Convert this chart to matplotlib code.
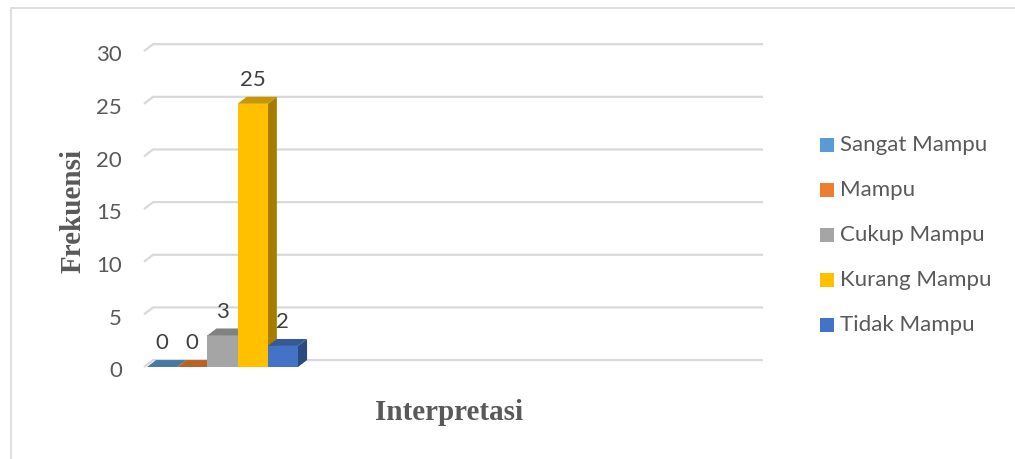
import numpy as np
import matplotlib
matplotlib.use('Agg')
import matplotlib.pyplot as plt
from matplotlib.patches import Polygon, Rectangle
from matplotlib.colors import to_rgb

# Data

categories = ['Sangat Mampu', 'Mampu', 'Cukup Mampu', 'Kurang Mampu', 'Tidak Mampu']
frekuensi = [0, 0, 3, 25, 2]
colors = ['#5B9BD5', '#ED7D31', '#A5A5A5', '#FFC000', '#4472C4']
yticks = [0, 5, 10, 15, 20, 25, 30]

# Style

text_color = '#595959'
grid_color = '#D9D9D9'
tick_font = 'Lato'
title_font = 'Liberation Serif'
label_size = 16

# fake 3D depth (data units)
depth_x = 0.3
depth_y = 0.66


def shade(color, factor):
    r, g, b = to_rgb(color)
    return (r * factor, g * factor, b * factor)


fig = plt.figure(figsize=(10.15, 4.59), dpi=100)
fig.patch.set_facecolor('white')

# outer chart border
fig.patches.append(Rectangle((10.5 / 1015, -0.05), 1.1, (459 - 7.5) / 459 + 0.05,
                             transform=fig.transFigure, fill=False,
                             edgecolor=grid_color, linewidth=1.2))

ax = fig.add_axes([144 / 1015, (459 - 367) / 459, 619 / 1015, 326.4 / 459])
ax.set_xlim(-0.6, 19.9)
ax.set_ylim(0, 31)
ax.axis('off')

# back-wall gridlines with the slanted floor edge
x0, x1 = ax.get_xlim()
for v in yticks:
    ax.plot([x0, x0 + depth_x, x1], [v, v + depth_y, v + depth_y],
            color=grid_color, linewidth=1.6, zorder=1, clip_on=False,
            solid_capstyle='butt')
    ax.annotate(str(v), xy=(x0, v), xytext=(-16, -3), textcoords='offset points',
                ha='right', va='center', fontsize=label_size, color=text_color,
                family=tick_font)

# columns: front face + top + right side
xs = np.arange(len(categories))
w = 1.0
for x, h, c in zip(xs, frekuensi, colors):
    left, right = x - w / 2, x + w / 2
    if h > 0:
        ax.bar(x, h, width=w, color=c, zorder=3, linewidth=0)
    top = Polygon([(left, h), (right, h), (right + depth_x, h + depth_y),
                   (left + depth_x, h + depth_y)], closed=True,
                  facecolor=shade(c, 0.78), edgecolor='none', zorder=3)
    ax.add_patch(top)
    if h > 0:
        side = Polygon([(right, 0), (right + depth_x, depth_y),
                        (right + depth_x, h + depth_y), (right, h)], closed=True,
                       facecolor=shade(c, 0.65), edgecolor='none', zorder=2)
        ax.add_patch(side)
    ax.annotate(str(h), xy=(x, h + depth_y), xytext=(0, 12), textcoords='offset points',
                ha='center', va='center', fontsize=label_size, color='#404040',
                family=tick_font)

# axis titles
fig.text(73 / 1015, 1 - 211 / 459, 'Frekuensi', rotation=90, ha='center', va='center',
         fontsize=21, fontweight='bold', color=text_color, family=title_font)
fig.text(449 / 1015, 1 - 413 / 459, 'Interpretasi', ha='center', va='center',
         fontsize=21, fontweight='bold', color=text_color, family=title_font)

# legend
for i, (name, c) in enumerate(zip(categories, colors)):
    yc = 145 + 45 * i
    fig.patches.append(Rectangle((820 / 1015, 1 - (yc + 7) / 459), 14 / 1015, 14 / 459,
                                 transform=fig.transFigure, facecolor=c,
                                 edgecolor='none'))
    fig.text(840 / 1015, 1 - yc / 459, name, ha='left', va='center',
             fontsize=label_size, color=text_color, family=tick_font)

fig.savefig('out.png', dpi=100, facecolor='white')
